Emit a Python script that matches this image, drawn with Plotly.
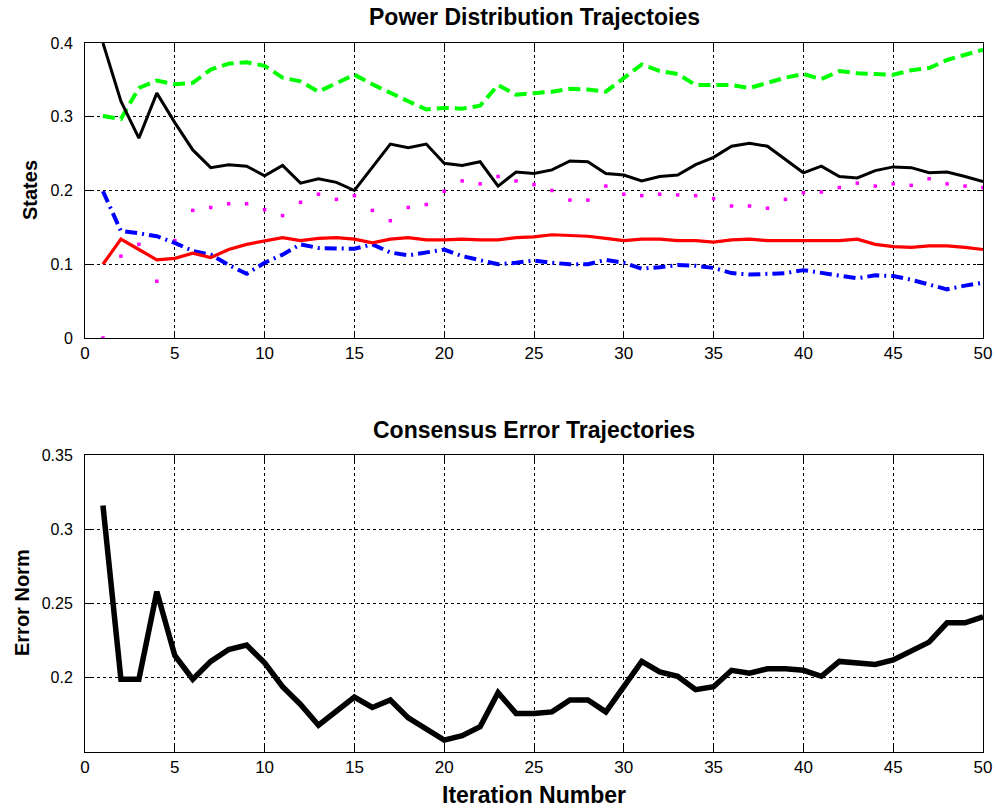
import plotly.graph_objects as go

iters = list(range(1, 51))

black_states = [0.400, 0.321, 0.271, 0.332, 0.292, 0.255, 0.231, 0.235, 0.233, 0.220,
                0.234, 0.210, 0.216, 0.211, 0.200, 0.232, 0.263, 0.258, 0.263, 0.237,
                0.234, 0.239, 0.206, 0.225, 0.223, 0.228, 0.240, 0.239, 0.223, 0.221,
                0.213, 0.219, 0.221, 0.235, 0.245, 0.260, 0.264, 0.260, 0.242, 0.224,
                0.233, 0.219, 0.217, 0.227, 0.232, 0.231, 0.224, 0.225, 0.219, 0.212]

green_states = [0.301, 0.297, 0.339, 0.349, 0.344, 0.346, 0.364, 0.372, 0.374, 0.369,
                0.353, 0.348, 0.334, 0.346, 0.357, 0.344, 0.332, 0.321, 0.310, 0.312,
                0.311, 0.315, 0.343, 0.330, 0.332, 0.334, 0.338, 0.337, 0.334, 0.353,
                0.371, 0.362, 0.358, 0.343, 0.343, 0.343, 0.339, 0.346, 0.353, 0.358,
                0.351, 0.362, 0.359, 0.358, 0.357, 0.363, 0.366, 0.377, 0.384, 0.391]

red_states = [0.100, 0.134, 0.120, 0.106, 0.108, 0.115, 0.109, 0.120, 0.127, 0.131,
              0.136, 0.132, 0.135, 0.136, 0.134, 0.129, 0.134, 0.136, 0.133, 0.133,
              0.134, 0.133, 0.133, 0.136, 0.137, 0.140, 0.139, 0.138, 0.135, 0.132,
              0.134, 0.134, 0.132, 0.132, 0.130, 0.133, 0.134, 0.132, 0.132, 0.132,
              0.132, 0.132, 0.134, 0.127, 0.124, 0.123, 0.125, 0.125, 0.123, 0.120]

blue_states = [0.199, 0.145, 0.142, 0.138, 0.129, 0.118, 0.113, 0.099, 0.087, 0.102,
               0.113, 0.127, 0.122, 0.121, 0.121, 0.127, 0.116, 0.112, 0.116, 0.120,
               0.111, 0.105, 0.100, 0.102, 0.105, 0.102, 0.100, 0.100, 0.106, 0.102,
               0.094, 0.096, 0.099, 0.098, 0.095, 0.088, 0.086, 0.087, 0.088, 0.092,
               0.088, 0.085, 0.081, 0.085, 0.084, 0.079, 0.072, 0.066, 0.071, 0.075]

magenta_states = [0.000, 0.111, 0.127, 0.077, 0.132, 0.173, 0.177, 0.182, 0.182, 0.174,
                  0.166, 0.184, 0.195, 0.188, 0.193, 0.173, 0.159, 0.177, 0.181, 0.199,
                  0.213, 0.209, 0.219, 0.213, 0.208, 0.200, 0.187, 0.187, 0.206, 0.195,
                  0.193, 0.195, 0.194, 0.193, 0.189, 0.179, 0.179, 0.176, 0.188, 0.197,
                  0.198, 0.204, 0.210, 0.206, 0.209, 0.207, 0.216, 0.209, 0.206, 0.204]

error_norm = [0.316, 0.199, 0.199, 0.258, 0.215, 0.199, 0.211, 0.219, 0.222, 0.210,
              0.194, 0.182, 0.168, 0.178, 0.187, 0.180, 0.185, 0.173, 0.166, 0.158,
              0.161, 0.167, 0.190, 0.176, 0.176, 0.177, 0.185, 0.185, 0.177, 0.194,
              0.211, 0.204, 0.201, 0.192, 0.194, 0.205, 0.203, 0.206, 0.206, 0.205,
              0.201, 0.211, 0.210, 0.209, 0.212, 0.218, 0.224, 0.237, 0.237, 0.241]

x_ticks = [0, 5, 10, 15, 20, 25, 30, 35, 40, 45, 50]
top_yticks = [0, 0.1, 0.2, 0.3, 0.4]
top_yticklabels = ["0", "0.1", "0.2", "0.3", "0.4"]
bot_yticks = [0.2, 0.25, 0.3, 0.35]
bot_yticklabels = ["0.2", "0.25", "0.3", "0.35"]

FONT = "Liberation Sans, Arial, Helvetica, sans-serif"

fig = go.Figure()

fig.add_trace(go.Scatter(x=iters, y=magenta_states, mode="markers",
                         marker=dict(color="#ff00ff", size=3.5, symbol="square", line=dict(width=0)),
                         xaxis="x", yaxis="y", showlegend=False))
fig.add_trace(go.Scatter(x=iters, y=green_states, mode="lines",
                         line=dict(color="#00ff00", width=4, dash="12px,6px"),
                         xaxis="x", yaxis="y", showlegend=False))
fig.add_trace(go.Scatter(x=iters, y=blue_states, mode="lines",
                         line=dict(color="#0000ff", width=4, dash="12px,5px,2px,5px"),
                         xaxis="x", yaxis="y", showlegend=False))
fig.add_trace(go.Scatter(x=iters, y=red_states, mode="lines",
                         line=dict(color="#ff0000", width=3.2),
                         xaxis="x", yaxis="y", showlegend=False))
fig.add_trace(go.Scatter(x=iters, y=black_states, mode="lines",
                         line=dict(color="#000000", width=3),
                         xaxis="x", yaxis="y", showlegend=False))

fig.add_trace(go.Scatter(x=iters, y=error_norm, mode="lines",
                         line=dict(color="#000000", width=5.5),
                         xaxis="x2", yaxis="y2", showlegend=False))

axis_common = dict(showline=True, linecolor="black", linewidth=1, mirror="ticks",
                   ticks="inside", ticklen=6, tickcolor="black",
                   showgrid=True, gridcolor="black", gridwidth=1, griddash="dot",
                   zeroline=False, automargin=False)

top_dom = [(752 - 338) / 709, 1.0]
bot_dom = [0.0, (752 - 455) / 709]

fig.update_layout(
    width=996, height=808,
    margin=dict(l=85, r=13, t=43, b=56),
    paper_bgcolor="white", plot_bgcolor="white",
    font=dict(family=FONT, color="black"),
    xaxis=dict(domain=[0, 1], range=[0, 50], tickvals=x_ticks,
               tickfont=dict(size=17), anchor="y", **axis_common),
    yaxis=dict(domain=top_dom, range=[0, 0.4], tickvals=top_yticks, ticktext=top_yticklabels,
               tickfont=dict(size=16), anchor="x", ticklabelstandoff=8, **axis_common),
    xaxis2=dict(domain=[0, 1], range=[0, 50], tickvals=x_ticks,
                tickfont=dict(size=17), anchor="y2", **axis_common),
    yaxis2=dict(domain=bot_dom, range=[0.15, 0.35], tickvals=bot_yticks, ticktext=bot_yticklabels,
                tickfont=dict(size=16), anchor="x2", ticklabelstandoff=8, **axis_common),
)

def py(Y):
    return (752 - Y) / 709

def px(X):
    return (X - 85) / 898

annos = [
    dict(text="<b>Power Distribution Trajectoies</b>", x=0.5, y=py(17), font=dict(size=23)),
    dict(text="<b>Consensus Error Trajectories</b>", x=0.5, y=py(430), font=dict(size=23)),
    dict(text="<b>Iteration Number</b>", x=0.5, y=py(795), font=dict(size=23)),
    dict(text="<b>States</b>", x=px(30), y=py(190), font=dict(size=20), textangle=-90),
    dict(text="<b>Error Norm</b>", x=px(22), y=py(603), font=dict(size=20), textangle=-90),
]
for a in annos:
    fig.add_annotation(xref="paper", yref="paper", showarrow=False,
                       xanchor="center", yanchor="middle", **a)

fig.write_html("out.html")
